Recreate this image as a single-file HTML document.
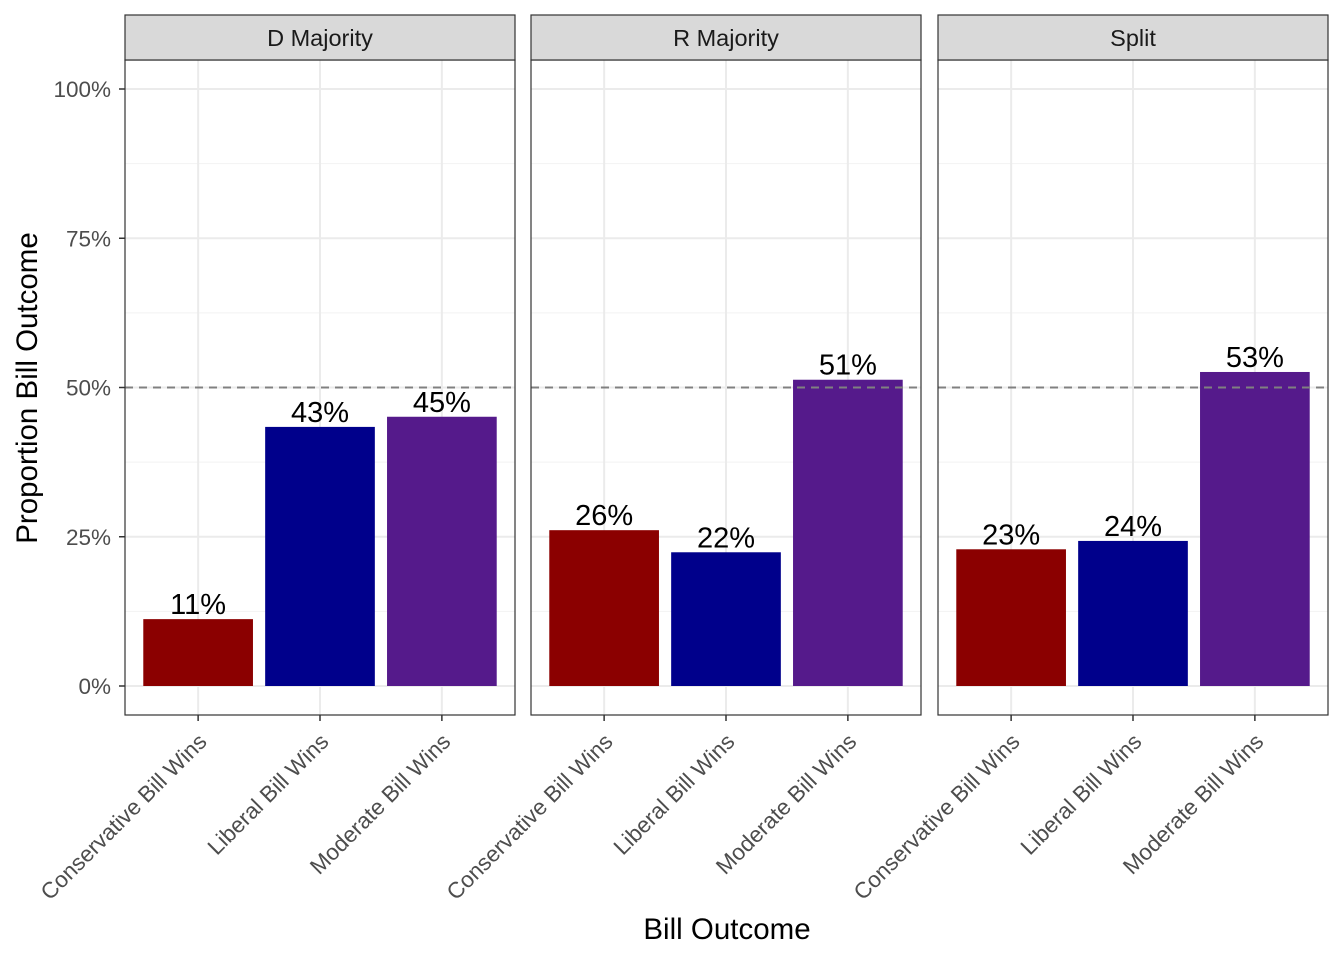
<!DOCTYPE html>
<html><head><meta charset="utf-8"><style>
body{margin:0;background:#fff}
svg{font-family:"Liberation Sans",Arial,sans-serif;display:block}
</style></head><body>
<svg id="c" width="1344" height="960" viewBox="0 0 1344 960" xmlns="http://www.w3.org/2000/svg"></svg>
<script>
const panels = ["D Majority","R Majority","Split"];
const categories = ["Conservative Bill Wins","Liberal Bill Wins","Moderate Bill Wins"];
const valuesD = [11.2, 43.4, 45.1];
const valuesR = [26.1, 22.4, 51.3];
const valuesS = [22.9, 24.3, 52.6];
const yTicks = [0,25,50,75,100];
const colors = ["#8b0000","#00008b","#551a8b"];
const series = [valuesD, valuesR, valuesS];
const NS = "http://www.w3.org/2000/svg";
const svgRoot = document.getElementById('c');
function el(t, a, p){const e=document.createElementNS(NS,t);for(const k in a)e.setAttribute(k,a[k]);(p||svgRoot).appendChild(e);return e;}
const panelX=[125,531,938], pw=390, plotTop=60, plotBot=715;
const yS = v => 686 - v*5.97;
const xc = (i,px) => px + (i+0.6)*(pw/3.2);
panels.forEach((name,p)=>{
  const px=panelX[p];
  const g=el('g',{});
  
  
  el('rect',{x:px,y:plotTop,width:pw,height:plotBot-plotTop,fill:'#fff'},g);
  for(let k=0;k<4;k++){const v=12.5+25*k;el('line',{x1:px,x2:px+pw,y1:yS(v),y2:yS(v),stroke:'#f2f2f2','stroke-width':1},g);}
  yTicks.forEach(v=>el('line',{x1:px,x2:px+pw,y1:yS(v),y2:yS(v),stroke:'#ebebeb','stroke-width':2},g));
  categories.forEach((c,i)=>el('line',{x1:xc(i,px),x2:xc(i,px),y1:plotTop,y2:plotBot,stroke:'#ebebeb','stroke-width':2},g));
  const bw=pw/3.2*0.9;
  series[p].forEach((v,i)=>{
    const b=el('rect',{x:xc(i,px)-bw/2,y:yS(v),width:bw,height:yS(0)-yS(v),fill:colors[i]},g);
    
    
    const t=el('text',{x:xc(i,px),y:yS(v)-5,'text-anchor':'middle','font-size':'29px',fill:'#000'},g);
    t.textContent=Math.round(v)+'%';
    
    
  });
  el('line',{x1:px,x2:px+pw,y1:yS(50),y2:yS(50),stroke:'#808080','stroke-width':2,'stroke-dasharray':'8,6'},g);
  el('rect',{x:px,y:plotTop,width:pw,height:plotBot-plotTop,fill:'none',stroke:'#333','stroke-width':1.2},g);
  const s=el('rect',{x:px,y:15,width:pw,height:45,fill:'#d9d9d9',stroke:'#333','stroke-width':1.2},g);
  
  
  const st=el('text',{x:px+pw/2,y:46,'text-anchor':'middle','font-size':'23.5px',fill:'#1a1a1a'},g);
  st.textContent=name;
  
  
  categories.forEach((c,i)=>{
    const x=xc(i,px);
    el('line',{x1:x,x2:x,y1:plotBot,y2:plotBot+6,stroke:'#333','stroke-width':1.5},g);
    const ax=x+10, ay=plotBot+28;
    const t=el('text',{x:ax,y:ay,'text-anchor':'end','font-size':'22.5px',fill:'#4d4d4d',transform:`rotate(-45 ${ax} ${ay})`},g);
    t.textContent=c;
    
    
  });
});
yTicks.forEach(v=>{
  el('line',{x1:119,x2:125,y1:yS(v),y2:yS(v),stroke:'#333','stroke-width':1.5});
  const t=el('text',{x:111,y:yS(v)+8,'text-anchor':'end','font-size':'22.5px',fill:'#4d4d4d'});
  t.textContent=v+'%';
  
  
});
const xt=el('text',{x:727,y:939,'text-anchor':'middle','font-size':'29.5px',fill:'#000'});
xt.textContent='Bill Outcome';


const yt=el('text',{x:37,y:388,'text-anchor':'middle','font-size':'29.5px',fill:'#000',transform:'rotate(-90 37 388)'});
yt.textContent='Proportion Bill Outcome';


</script>
</body></html>
